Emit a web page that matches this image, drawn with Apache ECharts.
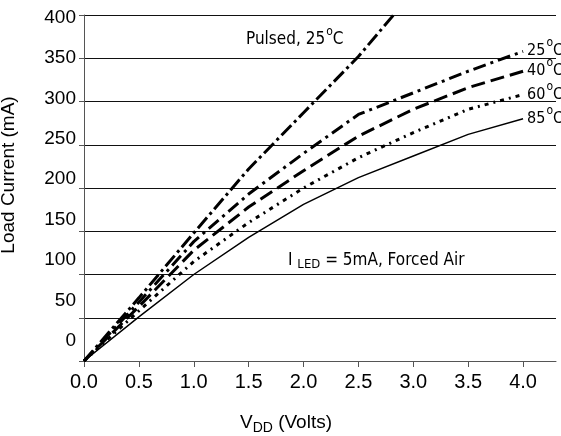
<!DOCTYPE html>
<html><head><meta charset="utf-8">
<script src="https://cdn.jsdelivr.net/npm/echarts@6/dist/echarts.min.js"></script>
<style>html,body{margin:0;padding:0;background:#fff}#c{width:561px;height:436px}</style>
</head><body><div id="c"></div>
<script>
// ---- data ----
const vdd      = [0, 0.5, 1.0, 1.5, 2.0, 2.5, 3.0, 3.5, 4.0];
const pulsedX  = [0, 0.5, 1.0, 1.5, 2.0, 2.5, 2.82];
const pulsed25 = [0, 73, 148, 222, 287, 352, 400];
const cur25    = [0, 68, 138, 193, 240, 285, 310, 335, 358];
const cur40    = [0, 63, 128, 178, 220, 260, 291, 316, 335];
const cur60    = [0, 58, 115, 160, 200, 235, 264, 291, 308];
const cur85    = [0, 51, 100, 143, 181, 212, 237, 262, 280];
const yTickLabels = [0, 50, 100, 150, 200, 250, 300, 350, 400];
const xTickLabels = [0, 0.5, 1.0, 1.5, 2.0, 2.5, 3.0, 3.5, 4.0];
const seriesNames = ['Pulsed, 25', '25', '40', '60', '85'];

const narrow = "'Liberation Sans Narrow','DejaVu Sans Condensed','Liberation Sans',sans-serif";
const sans = "'Liberation Sans',Arial,sans-serif";
const supStyle = { fontSize: 12, padding: [0, 0, 16, 1], fontFamily: narrow, color: '#000' };
const supRich = {
  sup: supStyle,
  sub: { fontSize: 13, padding: [9, 0, 0, 0], fontFamily: narrow, color: '#000' }
};
const pairs = (xs, ys) => xs.map((x, i) => [x, ys[i]]);

function lineSeries(name, xs, ys, width, dash, withEnd) {
  return {
    name, type: 'line', data: pairs(xs, ys), symbol: 'none', smooth: false,
    yAxisIndex: 0, z: 3,
    lineStyle: { color: '#000', width, type: dash, cap: 'butt' },
    endLabel: withEnd ? {
      show: true, distance: 4,
      formatter: name + '{sup|o}C',
      fontFamily: narrow, fontSize: 16, color: '#000',
      rich: { sup: supStyle }
    } : { show: false }
  };
}

const chart = echarts.init(document.getElementById('c'), null, { renderer: 'canvas' });
chart.setOption({
  animation: false,
  backgroundColor: '#fff',
  grid: { left: 84, right: 5, top: 15, bottom: 75, containLabel: false, outerBoundsMode: 'none' },
  xAxis: {
    type: 'value', min: 0, max: 4.3,
    axisLine: { show: true, lineStyle: { color: '#555', width: 1 } },
    axisTick: { show: true, length: 6, customValues: xTickLabels, lineStyle: { color: '#555' } },
    axisLabel: { customValues: xTickLabels, formatter: v => v.toFixed(1), fontSize: 20, fontFamily: sans, color: '#000', margin: 11 },
    splitLine: { show: false },
    name: 'V{sub|DD} (Volts)', nameLocation: 'middle', nameGap: 50,
    nameTextStyle: {
      fontSize: 19, fontFamily: sans, color: '#000', padding: [0, 68, 0, 0],
      rich: { sub: { fontSize: 14, padding: [10, 0, 0, 0], fontFamily: sans, color: '#000' } }
    }
  },
  yAxis: [{
    type: 'value', min: 0, max: 400, interval: 50, position: 'left',
    axisLine: { show: true, lineStyle: { color: '#555', width: 1 } },
    axisTick: { show: true, length: 5, lineStyle: { color: '#555' } },
    axisLabel: { show: false },
    splitLine: { show: true, lineStyle: { color: '#111', width: 1 } },
    name: 'Load Current (mA)', nameLocation: 'middle', nameGap: 66,
    nameTextStyle: { fontSize: 19, fontFamily: sans, color: '#000', padding: [0, 0, 0, 26] }
  }, {
    // label-only axis reproducing the reference's tick-label placement
    type: 'value', min: -25, max: 403, position: 'left', offset: 0,
    axisLine: { show: false }, axisTick: { show: false }, splitLine: { show: false },
    axisLabel: { customValues: yTickLabels, fontSize: 19, fontFamily: sans, color: '#000', margin: 8 }
  }],
  series: [
    lineSeries(seriesNames[0], pulsedX, pulsed25, 3, [14, 4, 3, 4], false),
    lineSeries(seriesNames[1], vdd, cur25, 3, [13, 5, 3, 5], true),
    lineSeries(seriesNames[2], vdd, cur40, 3, [14, 6], true),
    lineSeries(seriesNames[3], vdd, cur60, 3, [4, 5, 2, 5], true),
    lineSeries(seriesNames[4], vdd, cur85, 1.5, 'solid', true)
  ],
  graphic: [
    { type: 'text', left: 246, top: 26, z: 10,
      style: { text: 'Pulsed, 25{sup|o}C', font: '17px ' + narrow, fill: '#000', rich: supRich } },
    { type: 'text', left: 288, top: 252, z: 10,
      style: { text: 'I {sub|LED} = 5mA, Forced Air', font: '17px ' + narrow, fill: '#000', rich: supRich } }
  ]
});
</script></body></html>
